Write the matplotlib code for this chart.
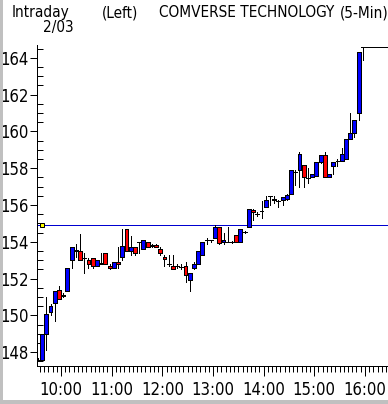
import matplotlib
matplotlib.use("Agg")
import matplotlib.pyplot as plt
from matplotlib import font_manager as fm
from matplotlib.ticker import FixedLocator
from matplotlib.patches import Rectangle

# ---- data ----
opens = [147.6, 147.6, 149.0, 150.2, 150.7, 151.4, 151.05, 151.3, 153.0, 153.5,
         153.5, 153.1, 153.0, 153.1, 152.7, 152.8, 153.4, 152.7, 152.6, 152.9,
         153.2, 154.7, 153.5, 153.7, 154.0, 153.6, 154.0, 153.75, 153.85, 153.6,
         153.2, 152.8, 152.7, 152.7, 152.65, 152.7, 151.9, 152.6, 152.8, 153.3,
         154.1, 154.1, 154.2, 154.8, 154.0, 154.0, 154.0, 154.35, 154.0, 154.55,
         154.8, 155.75, 155.5, 155.65, 155.9, 156.5, 156.35, 156.2, 156.25, 156.35,
         156.6, 157.8, 157.9, 158.2, 157.45, 157.55, 157.6, 158.35, 158.7, 157.5,
         158.1, 158.4, 158.4, 158.5, 159.6, 159.9, 161.0, 164.6]
highs = [147.7, 149.0, 151.0, 150.6, 151.3, 151.6, 151.2, 152.6, 153.7, 153.9,
         154.4, 153.4, 153.1, 153.1, 153.0, 153.4, 153.4, 152.8, 152.9, 153.7,
         154.7, 154.7, 154.3, 153.7, 154.0, 154.1, 154.0, 153.9, 153.9, 153.7,
         153.3, 153.3, 153.3, 152.8, 152.8, 152.9, 152.3, 152.9, 153.5, 154.0,
         154.2, 154.1, 154.9, 154.8, 154.5, 154.8, 154.05, 154.35, 154.7, 154.6,
         155.8, 155.8, 155.6, 156.2, 156.5, 156.5, 156.5, 156.3, 156.45, 156.6,
         157.9, 157.9, 158.9, 158.2, 158.0, 157.7, 158.35, 158.7, 158.9, 157.7,
         158.35, 158.5, 159.1, 159.6, 161.0, 160.6, 164.3, 164.6]
lows = [147.5, 147.5, 148.1, 150.0, 149.7, 150.9, 151.0, 151.3, 152.6, 153.2,
        153.0, 152.3, 152.6, 152.6, 152.7, 152.8, 152.8, 152.5, 152.6, 152.6,
        153.0, 153.5, 153.3, 153.3, 153.4, 153.6, 153.7, 153.7, 153.7, 153.3,
        152.7, 152.7, 152.5, 152.6, 152.5, 151.8, 151.3, 152.5, 152.8, 153.3,
        153.9, 154.0, 154.2, 153.9, 153.9, 154.0, 153.95, 154.0, 154.0, 154.5,
        154.8, 155.2, 155.4, 155.3, 155.9, 156.0, 156.1, 155.9, 156.0, 156.3,
        156.6, 157.1, 157.0, 157.0, 157.2, 157.5, 157.6, 158.3, 157.5, 157.5,
        157.7, 158.1, 158.4, 158.5, 159.6, 159.7, 160.6, 163.9]
closes = [147.6, 149.0, 150.1, 150.5, 151.3, 150.9, 151.1, 152.6, 153.7, 153.55,
          153.0, 153.1, 152.8, 152.7, 153.0, 152.85, 152.8, 152.6, 152.9, 152.8,
          153.8, 153.5, 153.7, 153.4, 154.0, 154.1, 153.7, 153.85, 153.7, 153.4,
          153.05, 152.8, 152.55, 152.7, 152.65, 152.2, 152.3, 152.8, 153.5, 154.0,
          154.1, 154.1, 154.8, 153.95, 154.1, 154.0, 154.0, 154.0, 154.7, 154.55,
          155.8, 155.6, 155.5, 155.65, 156.25, 156.5, 156.25, 156.2, 156.45, 156.55,
          157.9, 157.8, 158.8, 157.5, 157.45, 157.7, 158.35, 158.7, 157.5, 157.7,
          158.35, 158.4, 158.8, 159.6, 159.9, 160.6, 164.3, 164.6]
prev_close = 154.9
hour_labels = ["10:00", "11:00", "12:00", "13:00", "14:00", "15:00", "16:00"]
price_ticks = [148, 150, 152, 154, 156, 158, 160, 162, 164]

start_min = 9 * 60 + 30          # first 5-minute bar starts 9:30
bar_min = 5
times = [start_min + bar_min * i + bar_min / 2 for i in range(len(opens))]

# ---- pick a narrow sans font if one is installed ----
def pick_font():
    best = None
    for f in fm.fontManager.ttflist:
        nm = f.name.lower()
        fn = f.fname.lower()
        narrow = ("narrow" in nm or "condensed" in nm or "condensed" in fn
                  or "narrow" in fn or str(f.stretch) in
                  ("condensed", "semi-condensed", "extra-condensed"))
        if not narrow or f.style != "normal":
            continue
        w = f.weight if isinstance(f.weight, int) else (400 if f.weight in ("normal", "regular") else 700)
        if w != 400:
            continue
        if "mono" in nm or ("serif" in nm and "sans" not in nm):
            continue
        if "bold" in fn or "oblique" in fn or "italic" in fn:
            continue
        score = 3 if "liberation" in nm else (2 if "dejavu" in nm else 1)
        if best is None or score > best[0]:
            best = (score, f.fname)
    return best[1] if best else None

narrow_file = pick_font()
if narrow_file:
    FP = fm.FontProperties(fname=narrow_file, size=12)
    FT = fm.FontProperties(fname=narrow_file, size=11)
else:
    FP = fm.FontProperties(family="DejaVu Sans", size=10)
    FT = fm.FontProperties(family="DejaVu Sans", size=9.5)

W, H = 388, 404
PX = 0.72
fig = plt.figure(figsize=(W / 100, H / 100), dpi=100)
fig.patch.set_facecolor("white")

# grey window frame (left and bottom)
fig.patches.append(Rectangle((0, 0), 3 / W, 1, transform=fig.transFigure,
                             facecolor="#c0c0c0", edgecolor="none", zorder=0))
fig.patches.append(Rectangle((0, 0), 1, 4 / H, transform=fig.transFigure,
                             facecolor="#c0c0c0", edgecolor="none", zorder=0))

ax_l, ax_b, ax_t = 37, 366, 45
ax = fig.add_axes([ax_l / W, (H - ax_b) / H, (W - ax_l) / W, (ax_b - ax_t) / H])
ax.set_facecolor("white")

ax.set_ylim(147.25, 164.7)
ax.set_xlim(start_min + 1.5, start_min + 1.5 + 351 / 4.22 * 5)

# wicks
ax.vlines(times, lows, highs, color="black", lw=PX, antialiased=False, zorder=2)
# bodies
bottoms = [min(o, c) for o, c in zip(opens, closes)]
heights = [abs(c - o) for o, c in zip(opens, closes)]
colors = ["#0000ff" if c > o else ("#ff0000" if c < o else "black")
          for o, c in zip(opens, closes)]
ax.bar(times, heights, bottom=bottoms, width=bar_min * 0.92, color=colors,
       edgecolor="black", linewidth=PX, antialiased=False, zorder=3)

# previous close line and marker
ax.axhline(prev_close, color="#0000d0", lw=PX, antialiased=False, zorder=1)
ax.plot([times[1]], [prev_close], marker="s", ms=3.5, mfc="#ffff00",
        mec="black", mew=PX, zorder=4, clip_on=False)
# last price line
ax.hlines(highs[-1], times[-1], ax.get_xlim()[1], color="black", lw=PX,
          antialiased=False, zorder=2)

# spines
for s in ["top", "right"]:
    ax.spines[s].set_visible(False)
for s in ["left", "bottom"]:
    ax.spines[s].set_linewidth(PX)

# y ticks
ax.yaxis.set_major_locator(FixedLocator(price_ticks))
ax.set_yticklabels([str(p) for p in price_ticks])
ax.yaxis.set_minor_locator(FixedLocator([147.5 + 0.5 * k for k in range(35)]))
ax.tick_params(axis="y", which="major", direction="out", length=5, width=PX, pad=1)
ax.tick_params(axis="y", which="minor", direction="in", length=4, width=PX)

# x ticks
hour_pos = [(10 + k) * 60 for k in range(len(hour_labels))]
ax.xaxis.set_major_locator(FixedLocator(hour_pos))
ax.set_xticklabels(hour_labels)
ax.xaxis.set_minor_locator(FixedLocator([start_min + 5 * k for k in range(85)]))
ax.tick_params(axis="x", which="major", direction="out", length=7, width=PX, pad=4)
ax.tick_params(axis="x", which="minor", direction="out", length=4, width=PX)

for lab in ax.get_xticklabels() + ax.get_yticklabels():
    lab.set_fontproperties(FP)

# header texts
def ftxt(x, y, s):
    fig.text(x / W, 1 - y / H, s, ha="left", va="baseline", fontproperties=FT)

ftxt(12, 17, "Intraday")
ftxt(102, 17, "(Left)")
ftxt(159, 17, "COMVERSE TECHNOLOGY")
ftxt(340, 17, "(5-Min)")
ftxt(43, 32, "2/03")

fig.savefig("out.png", dpi=100, facecolor="white")
